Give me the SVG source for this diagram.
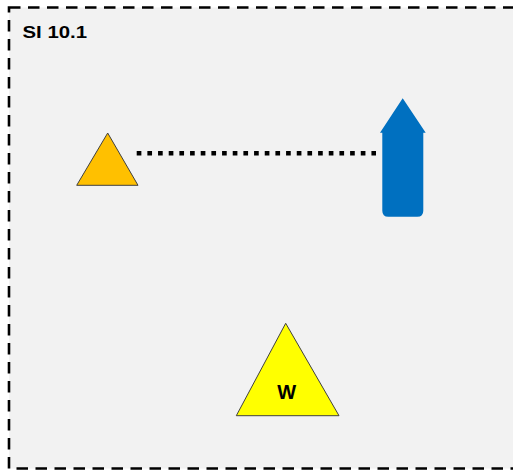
<svg xmlns="http://www.w3.org/2000/svg" width="513" height="470" viewBox="0 0 513 470">
<style>
.lbl{font-family:"Liberation Sans",Arial,sans-serif;font-weight:bold;fill:#000}
.tri{stroke:#404040;stroke-width:1;stroke-linejoin:miter}
</style>
<rect x="0" y="0" width="513" height="470" fill="#ffffff"/>
<g id="frame">
<rect x="9" y="7.5" width="520" height="461" fill="#F2F2F2" stroke="#000" stroke-width="2.6" stroke-dasharray="11.5 7.5"/>
<text class="lbl" x="22.5" y="37.5" font-size="17" textLength="64.5" lengthAdjust="spacingAndGlyphs">SI 10.1</text>
</g>
<g id="connectors">
<line x1="136.7" y1="153.2" x2="376" y2="153.2" stroke="#000" stroke-width="4.6" stroke-dasharray="4.67 6"/>
</g>
<g id="orange-triangle">
<polygon class="tri" points="107.7,133 138,185.3 76.7,185.3" fill="#FFC000"/>
</g>
<g id="blue-arrow">
<path d="M402.7,98.3 L425.7,132.7 L423.3,132.7 L423.3,210.7 Q423.3,216.7 417.3,216.7 L388.3,216.7 Q382.3,216.7 382.3,210.7 L382.3,132.7 L380,132.7 Z" fill="#0070C0"/>
</g>
<g id="w-triangle">
<polygon class="tri" points="285.7,323.3 339,415.7 236.3,415.7" fill="#FFFF00"/>
<text class="lbl" x="286.7" y="399" font-size="20" text-anchor="middle">W</text>
</g>
</svg>
